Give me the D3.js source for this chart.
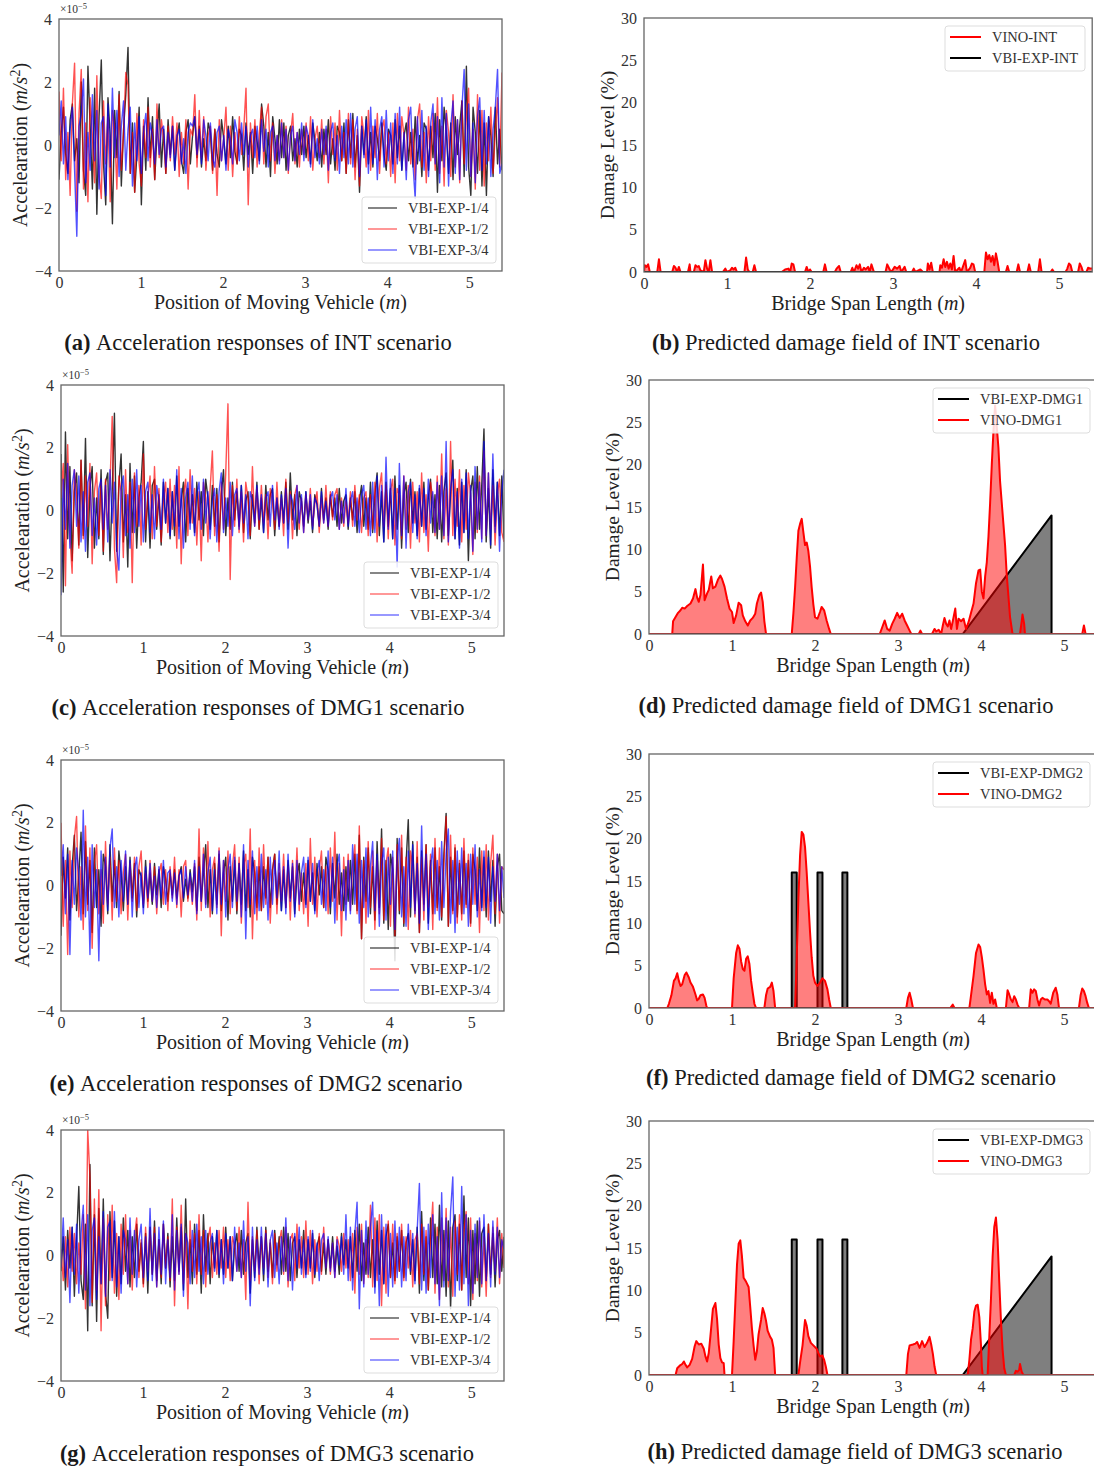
<!DOCTYPE html>
<html>
<head>
<meta charset="utf-8">
<script src="https://cdn.jsdelivr.net/npm/d3@7"></script>
<style>
body{margin:0;background:#fff}
text{font-family:"Liberation Serif","Times New Roman",serif}
</style>
</head>
<body>
<svg id="fig" width="1094" height="1468"></svg>
<script>
// acceleration responses (x10^-5 m/s^2), samples evenly spaced over 0..5.4 m
var accInt14 = [-1.1,0.4,1.2,-0.3,-0.9,0.8,1.3,-0.5,0.2,-1.2, 2.0,-0.8,-1.6,2.5,0.6,-1.4,1.8,-2.2,0.9,2.7, -0.6,-1.9,1.5,0.3,-2.5,1.1,-0.4,1.7,-1.3,0.5, 1.6,3.1,-0.9,0.7,-1.5,-0.3,1.2,-1.9,0.6,-0.8, 1.5,-0.4,0.9,-1.1,0.3,1.3,-0.7,0.5,-0.9,0.8, -0.3,0.6,-0.8,0.2,0.7,-0.5,-0.9,0.4,0.8,-0.6, 0.3,0.9,-0.4,0.6,-0.7,0.2,-0.5,0.7,0.4,-0.8, 0.5,-0.3,-0.7,0.8,0.2,-0.6,0.6,-0.4,0.9,-0.2, -0.6,0.5,0.3,-0.8,0.7,-0.3,0.4,-0.9,0.6,0.1, -0.5,1.3,0.6,-0.7,0.4,-1.0,0.9,0.2,-0.6,0.8, -0.4,0.7,-0.8,0.3,0.6,-0.5,0.2,-0.7,0.5,-0.3, 0.6,-0.4,0.3,-0.6,0.7,0.1,-0.5,0.4,-0.7,0.5, -0.3,0.8,-0.6,0.2,-0.8,0.6,0.4,-0.5,0.7,-0.9, 0.8,-0.4,1.0,-0.7,0.3,-1.5,0.6,-0.3,0.9,-0.6, 0.4,-0.7,0.6,0.2,-0.5,0.7,-0.3,-0.8,0.5,0.3, -0.6,0.8,-0.4,0.6,-0.8,0.3,0.7,-0.5,0.4,-0.7, 0.9,-0.6,0.3,-1.0,0.7,0.5,-0.8,0.6,-0.4,1.0, -1.5,0.8,-0.5,1.2,0.4,-0.9,0.7,-1.1,0.9,-0.3, 0.6,1.4,-1.0,2.5,-0.7,-1.6,1.2,0.4,-0.9,1.1, -1.3,0.7,-1.6,0.9,0.3,-1.0,1.2,-0.6,0.5,-0.8];
var accInt12 = [1.7,-0.5,1.8,-1.1,0.4,-1.6,1.3,2.6,-2.1,1.0, 2.4,-1.4,0.7,-1.8,1.5,0.3,-1.2,2.2,-0.9,-1.7, 1.4,-0.6,0.9,-1.8,1.1,0.5,-1.4,1.6,-0.8,0.4, 2.3,1.9,-0.9,0.4,-1.5,1.0,-0.6,-1.3,0.8,-0.4, 1.2,-0.7,0.5,-1.1,1.3,-0.4,0.8,0.2,-0.9,0.6, -0.5,0.9,-0.3,0.7,-1.0,0.4,-0.6,0.8,-1.4,0.5, 0.3,1.6,-0.7,1.1,-0.4,0.9,-0.8,0.3,0.6,-0.9, 0.5,-1.6,0.8,-0.5,0.2,1.2,-0.8,0.6,-1.0,0.4, -0.6,0.9,-0.3,0.5,1.8,-1.9,0.7,-0.4,0.8,-0.7, 0.4,1.2,-0.6,0.9,1.3,-0.5,0.7,-0.9,0.3,-0.5, 0.8,-0.4,0.6,-0.9,0.3,1.0,-0.6,0.4,-0.7,0.5, -0.3,0.7,-0.5,0.9,-0.8,0.2,0.6,-0.4,0.8,-0.6, 0.5,-1.2,0.9,-0.3,0.7,-0.8,1.1,-0.5,0.4,-0.9, 1.0,-0.6,0.8,-1.1,0.5,-1.3,0.9,0.3,-0.7,1.1, -0.8,0.6,-0.4,1.0,-0.9,0.5,0.8,-0.6,0.4,-1.0, 0.7,-1.2,1.0,-0.5,0.9,0.3,-0.8,1.2,-0.6,0.5, -1.1,0.8,1.3,-0.7,0.4,-1.2,0.9,-0.5,1.0,-0.8, 1.5,-0.9,0.6,-1.3,1.1,0.4,-1.0,1.6,-0.7,0.8, -1.2,1.4,-0.6,0.9,1.8,-1.0,0.5,-1.4,1.6,-0.8, 1.1,-1.3,0.7,-0.5,1.2,-0.9,0.4,1.5,-0.7,2.3];
var accInt34 = [0.3,1.4,-0.6,0.9,-1.1,0.5,1.2,-0.8,-2.9,0.6, 1.0,2.1,-1.2,0.4,-0.8,1.6,-0.5,1.1,-1.4,0.7, 0.9,-1.6,1.3,-0.7,1.8,-0.4,1.1,-1.0,0.6,1.4, -0.8,0.5,1.2,-1.3,0.7,-0.5,0.9,-0.9,0.4,1.0, -0.5,0.7,0.3,-0.6,0.8,-0.3,0.5,0.6,-0.7,0.4, -0.4,0.6,-0.8,0.3,0.5,-0.6,0.2,-0.9,0.4,0.7, 0.6,0.9,-0.3,0.5,-0.6,0.8,0.3,-0.5,0.7,-0.4, -0.7,0.4,0.6,-0.5,0.3,-0.8,0.5,0.2,-0.6,0.8, 0.4,-0.5,0.7,-0.3,0.6,-0.7,0.3,0.5,-0.4,0.6, -0.6,0.8,-0.2,0.5,-0.7,0.4,0.6,-0.5,0.3,-0.6, 0.7,-0.4,0.5,-0.8,0.3,0.6,-0.5,0.4,-0.3,0.7, -0.5,0.6,0.3,-0.7,0.8,-0.4,0.2,-0.6,0.5,-0.3, 0.6,-0.8,0.4,0.7,-0.5,0.3,-0.9,0.6,-0.4,0.8, -0.6,1.0,-0.7,0.5,0.9,-1.0,0.6,-0.4,0.8,-0.9, 1.2,-0.6,0.8,-1.1,0.5,0.9,-0.7,1.1,-0.5,0.7, -0.9,1.0,-0.6,1.2,-0.8,0.4,-1.1,0.8,1.2,-0.6, -1.7,0.9,-0.5,1.1,-0.8,0.6,-1.0,0.7,1.3,-0.6, 0.9,-1.2,1.5,-0.7,1.0,-1.3,0.6,1.4,-0.9,0.8, -1.1,1.2,2.4,-0.8,1.3,-1.0,0.7,-1.2,0.9,1.5, -0.8,1.1,-0.6,0.9,-1.0,0.5,1.2,2.4,-0.9,-0.6];

var accDmg1_14 = [1.8,-2.6,2.5,-0.9,1.4,-1.6,0.6,1.2,-1.1,1.6, -0.8,2.3,-1.5,0.7,1.4,-1.2,0.4,-0.9,1.3,-1.4, 0.9,1.2,-1.6,0.6,3.1,-1.3,0.8,1.8,-1.0,0.5, -1.8,1.5,-0.7,1.1,-1.2,0.4,0.9,2.2,-1.0,0.6, -1.2,0.8,1.0,-0.6,0.5,-1.1,0.9,-0.4,0.7,-0.9, 0.6,-0.8,1.1,-0.5,0.3,0.9,-1.0,0.7,-0.4,0.5, -0.7,0.9,-0.3,0.6,-0.8,1.0,0.4,-0.6,0.8,-0.5, 0.7,-1.0,0.5,1.3,-0.8,0.4,-0.6,0.9,-0.3,0.6, -0.5,0.8,-0.7,0.3,0.6,-0.9,0.5,-0.4,0.9,-0.6, 0.4,-0.7,0.8,-0.3,0.5,0.7,-0.8,0.4,-0.5,0.6, -0.4,0.9,-0.6,1.2,-0.3,0.5,-0.8,0.6,0.3,-0.5, 0.6,-0.4,0.3,-0.7,0.5,0.2,-0.5,0.7,-0.3,0.4, -0.6,0.5,-0.2,0.4,-0.5,0.7,-0.4,0.3,0.5,-0.6, 0.4,-0.3,0.6,-0.7,0.3,0.8,-0.5,0.4,-0.6,0.9, -0.7,0.5,1.2,-0.8,0.6,-1.0,0.9,-0.5,0.7,-0.9, 1.1,-0.6,0.8,-1.2,0.5,0.9,-0.7,1.0,-0.4,0.6, -0.8,0.7,-0.5,0.9,-0.6,0.4,1.0,-0.7,0.5,-0.9, 0.8,-1.0,0.6,1.2,-0.8,0.5,1.6,-0.9,0.7,-1.1, 0.9,-0.7,1.3,-1.6,0.6,1.1,-0.9,1.4,-0.6,0.8, 2.6,-1.0,0.7,-1.2,1.3,-0.5,0.9,-0.8,1.1,-0.9];
var accDmg1_12 = [0.4,1.5,-2.4,2.1,-0.8,-2.0,1.3,0.5,-1.2,1.6, -0.9,1.1,-0.5,1.5,-1.7,0.6,1.2,-0.8,0.9,-1.3, 1.0,-0.6,0.8,3.0,-1.2,-2.3,1.1,0.6,-1.5,1.3, -0.7,0.9,-2.3,1.2,-0.5,0.8,-1.1,1.8,-0.6,0.4, 1.1,-0.9,1.4,-0.5,0.7,-1.0,0.3,0.9,-0.7,1.0, -0.6,0.8,-1.2,1.4,-1.7,0.5,1.0,-0.8,1.3,-0.4, 0.7,-1.1,0.6,-1.6,0.9,0.4,-1.0,0.7,1.9,-0.8, 0.5,-1.3,0.9,-0.6,1.2,3.4,-2.2,0.8,-0.5,1.0, -0.7,0.6,-1.0,0.9,0.4,-0.8,1.4,-0.5,0.7,-0.6, 0.8,-0.4,0.5,-0.9,0.7,0.3,-0.6,0.9,-0.5,0.4, -0.8,1.0,-0.4,0.6,-0.9,0.5,0.8,-0.6,0.4,-0.7, 0.5,-0.3,0.7,-0.5,0.2,0.6,-0.7,0.4,-0.4,0.8, -0.5,0.6,-0.3,0.5,0.7,-0.6,0.4,-0.5,0.3,-0.4, 0.6,-0.5,0.8,-0.3,0.5,-0.7,0.4,0.6,-0.8,0.5, -0.6,0.9,-1.0,0.7,1.2,-0.5,0.8,-0.9,0.6,1.0, -1.1,0.7,0.5,-0.9,1.1,-0.6,0.8,-1.2,0.9,-0.4, 0.6,-1.0,1.2,-0.7,0.5,-1.3,0.9,0.4,-0.8,1.1, -0.6,1.8,-0.9,0.7,-1.1,2.2,-0.8,1.0,-0.5,1.3, -1.0,0.8,-0.6,1.2,0.5,-1.4,0.9,-0.7,1.1,-0.9, 1.9,-0.8,1.2,-0.6,0.8,-1.1,0.5,1.0,-0.7,-1.0];
var accDmg1_34 = [-2.7,1.0,-0.6,1.5,-1.2,0.8,1.3,-0.5,1.1,-1.0, 0.6,-1.3,0.9,1.2,-0.8,0.4,-1.1,0.7,1.0,-0.6, 0.8,-1.0,1.3,-0.4,0.9,-1.2,-1.9,0.7,1.1,-0.8, 0.5,-1.2,1.0,-0.7,1.3,-0.5,0.8,-1.0,0.6,0.9, -0.7,0.5,-0.9,0.8,0.3,-0.6,1.0,-0.4,0.7,-0.8, 0.6,-0.5,1.3,-0.9,0.7,-1.2,0.4,0.9,-0.6,1.1, -0.8,0.5,0.9,-0.6,1.0,-0.4,0.6,-0.9,0.3,0.7, -1.0,0.6,1.2,-0.7,0.4,-0.5,0.9,-0.8,0.5,0.7, -0.6,0.8,-0.4,0.5,-0.9,0.6,0.3,-0.5,0.8,-0.3, 0.5,-0.7,0.4,0.6,-0.5,0.8,-0.3,0.4,-0.6,0.5, -0.4,0.7,-1.2,0.5,0.3,-0.6,0.8,-0.4,0.5,-0.7, 0.6,-0.3,0.5,-0.6,0.4,0.2,-0.5,0.6,-0.4,0.3, -0.5,0.4,0.6,-0.3,0.5,-0.6,0.3,-0.4,0.7,-0.5, 0.3,0.6,-0.5,0.4,-0.7,0.5,0.8,-0.6,0.4,-0.8, 0.9,-0.7,1.1,-0.5,0.8,-1.0,1.7,-0.6,1.0,-0.9, 0.7,-1.8,1.5,-0.8,1.1,-1.2,0.6,0.9,-0.7,0.5, -0.9,0.8,-0.5,0.7,-0.8,1.0,-0.4,0.6,-0.7,0.9, -0.6,1.1,-0.8,2.2,-1.0,0.7,1.3,-0.9,0.6,-1.2, 1.0,-0.7,1.2,-0.9,0.8,-1.3,1.4,-0.6,0.9,-1.0, 2.2,-0.8,1.2,-1.1,1.8,-0.7,0.9,-1.3,0.6,1.3];

var accDmg2_14 = [-1.6,0.9,-0.4,1.2,-1.1,0.6,1.6,-0.8,0.3,1.7, -0.9,1.4,-0.6,0.8,-1.5,1.2,-0.7,0.5,-1.3,1.0, 0.6,-0.9,1.3,-0.5,0.8,-0.7,1.1,0.4,-0.8,0.6, -0.6,0.9,-0.4,0.7,-1.0,0.5,0.3,-0.7,0.8,-0.5, 0.4,-0.6,0.7,-0.3,0.5,-0.7,0.6,0.2,-0.5,0.4, -0.3,0.5,-0.4,0.3,0.6,-0.5,0.2,-0.4,0.5,-0.2, 0.6,-0.8,0.9,-0.5,0.4,1.3,-0.7,0.5,-0.9,0.7, -0.6,1.0,-0.8,0.4,0.9,-1.1,0.6,-0.5,0.8,-0.9, 0.7,-0.6,1.1,-0.8,0.5,-1.0,0.9,0.4,-0.7,0.6, -0.8,0.6,-0.4,0.9,-0.7,0.5,1.0,-0.6,0.4,-0.8, 0.5,-0.7,0.8,-0.4,0.6,-0.9,0.3,0.7,-0.5,0.4, -0.6,0.8,-0.5,0.4,-0.8,0.7,-0.3,0.6,-0.7,0.9, 0.5,-0.9,0.7,-0.4,1.0,-0.6,0.4,-0.8,0.6,-0.5, 0.8,-0.6,1.0,-0.8,1.6,-1.7,0.9,-0.5,1.2,-0.9, 0.6,-1.1,1.4,-0.7,1.8,-1.2,0.8,-1.4,1.0,0.5, -2.4,1.5,-0.9,1.2,-1.3,0.7,2.1,-1.0,1.4,-0.8, 0.9,-1.5,1.1,-0.6,1.3,-1.2,0.8,-0.9,1.2,-0.7, 0.6,-1.1,1.0,2.3,-1.3,0.9,-0.8,1.2,-1.0,0.7, -0.9,1.1,-0.6,0.8,-1.2,1.0,0.5,-0.8,1.2,-0.7, 0.9,-1.0,1.1,-0.5,0.8,-1.3,0.6,1.0,-0.8,-0.9];
var accDmg2_12 = [2.0,-1.3,0.8,-2.2,1.1,-0.7,1.5,2.2,-1.0,0.6, -1.4,1.9,-0.8,1.2,-2.0,0.7,1.3,-0.9,0.5,-1.2, 1.4,-0.6,0.9,-1.1,1.2,-0.5,0.8,-0.9,0.4,1.0, -1.1,0.7,-0.5,0.9,-0.8,0.6,1.1,-0.6,0.4,-0.7, 0.8,-0.5,0.6,-0.9,0.4,0.7,-0.6,0.5,-0.8,0.6, -0.4,0.9,-0.7,0.5,-1.0,0.6,0.8,-0.5,0.3,-0.6, 0.7,-1.1,1.8,-0.8,1.2,-0.6,1.4,-1.0,0.5,0.9, -0.7,1.2,-1.6,0.8,-0.5,1.1,-0.9,0.6,1.3,-0.8, 0.9,-1.2,0.6,1.0,-0.7,1.8,-1.7,0.8,-1.1,1.2, -0.8,1.3,-0.6,0.9,-1.2,0.5,1.0,-0.9,0.7,-0.5, 1.0,-0.7,0.6,-1.1,0.8,-0.5,1.2,-0.8,0.4,-0.9, 0.7,-1.3,1.5,-0.6,0.9,-1.0,0.5,1.1,-0.7,0.6, -0.9,1.2,-0.5,1.7,-1.1,0.7,-1.6,0.9,-0.6,1.0, -0.8,0.6,1.3,-0.9,1.9,-1.7,0.8,-1.2,1.4,-0.7, 1.1,-1.4,0.8,-0.9,1.5,-1.1,0.7,1.2,-1.3,0.9, -1.6,1.3,-0.8,1.6,-1.2,0.9,-1.4,1.1,0.6,-1.0, 1.4,-1.5,0.9,-1.1,1.3,-0.7,1.0,-1.4,1.5,-0.8, 1.2,-1.0,0.7,2.2,-1.3,1.6,-0.9,1.3,-1.2,0.8, -1.1,1.5,-0.7,1.0,-1.3,1.2,-0.6,0.9,-1.5,1.1, -0.8,1.3,-1.1,0.7,1.6,-0.9,1.0,-1.2,0.6,0.5];
var accDmg2_34 = [0.3,1.3,-0.9,1.0,-2.2,0.8,-0.6,1.2,0.4,-1.1, 2.4,-1.0,0.9,-2.2,1.3,-0.7,0.5,-2.4,1.1,-0.6, 0.9,-0.8,1.2,1.8,-0.7,0.6,-1.0,0.8,-0.5,1.1, -0.6,0.8,-1.0,0.5,0.9,-0.7,0.4,-0.9,0.6,-0.4, 0.7,-0.5,0.3,-0.7,0.6,-0.4,0.8,-0.6,0.4,0.5, -0.5,0.4,-0.6,0.3,0.5,-0.4,0.6,-0.3,0.4,-0.5, 0.8,-0.9,0.6,-0.5,1.0,-0.7,0.4,0.9,-0.8,0.5, -0.9,1.1,-0.6,0.8,-1.0,0.5,1.0,-0.7,0.9,-0.5, 0.7,-1.0,1.3,-1.7,0.8,-0.6,1.1,-0.9,0.6,-0.8, 1.0,-0.7,0.5,-1.1,0.9,-0.6,0.8,-0.4,1.1,-0.8, 0.6,-0.9,1.0,-0.5,0.7,-1.0,0.8,-0.6,0.4,0.9, -0.7,0.9,-0.5,0.7,-0.9,0.4,0.8,-0.6,0.5,-0.8, 1.1,-0.7,0.9,-1.2,0.6,1.0,-0.8,0.5,-1.1,0.8, -0.9,1.3,-0.6,1.0,-1.2,0.8,-0.7,1.2,-1.0,0.6, 1.4,-0.8,1.0,-1.3,0.7,1.2,-1.1,0.9,-0.6,1.1, -1.4,0.8,1.5,-1.0,0.6,-1.3,1.1,-0.7,1.3,-0.9, 0.7,-1.2,1.9,-0.8,1.0,-1.4,0.6,1.2,-0.9,0.8, -1.1,1.4,-0.7,1.0,1.8,-1.2,0.8,-1.5,1.1,-0.6, 1.2,-0.9,0.7,-1.3,1.0,-0.6,1.3,-1.0,0.5,-0.8, 1.1,-0.7,0.9,-1.2,0.6,-0.5,1.0,-0.8,0.6,-0.4];

var accDmg3_14 = [-0.5,0.6,-1.1,0.8,-0.4,0.9,-1.3,0.5,2.2,-0.8, -1.4,1.0,-2.4,2.9,-1.6,1.3,-2.1,1.5,-0.9,1.8, -1.2,-2.0,1.4,-0.7,1.1,-1.3,0.6,-0.9,1.2,-0.5, 0.8,-1.0,0.6,-0.7,1.0,-0.5,0.4,-0.9,0.7,-1.2, 0.9,-0.6,1.1,-0.8,0.5,-0.9,1.0,-0.4,0.7,-1.0, 0.6,-0.8,1.2,-0.5,0.9,-1.1,1.8,-0.7,0.5,-0.9, 1.0,-0.6,0.8,-1.2,1.3,-0.5,0.7,-0.9,0.6,-0.4, 0.8,-0.7,0.5,-0.6,0.9,-0.4,0.6,-0.8,0.3,0.7, -0.5,0.8,-0.6,0.4,0.7,-1.2,0.5,-0.7,0.9,-0.4, 0.6,-0.8,0.9,-0.5,0.4,-0.7,0.8,-0.3,0.6,-0.6, 0.9,-0.5,0.7,-0.8,0.4,0.6,-0.7,0.5,-0.4,0.8, -0.6,0.5,-0.4,0.7,-0.7,0.3,0.6,-0.5,0.4,-0.6, 0.5,-0.4,0.6,-0.5,0.3,-0.6,0.7,-0.3,0.5,-0.4, 0.6,-0.7,0.8,-0.5,1.0,-0.8,0.4,-0.6,0.9,-0.7, 0.5,-1.0,1.1,-0.6,0.8,-0.9,0.6,1.0,-0.7,0.4, -0.8,0.6,-0.5,0.8,-0.7,0.4,0.7,-0.6,0.5,-0.8, 0.9,-1.2,1.4,-0.8,0.6,-1.1,1.2,-0.7,1.0,-0.9, 1.6,-1.0,0.8,-1.3,1.1,-1.7,0.9,1.3,-0.8,1.0, -1.1,1.9,-0.7,1.2,-1.6,0.8,-0.9,1.1,-1.3,0.7, 0.9,-0.8,1.0,-0.6,0.7,-1.0,0.5,0.8,-0.5,0.6];
var accDmg3_12 = [0.2,-0.8,0.6,-1.0,0.9,-0.5,0.7,-0.9,0.4,-0.6, 1.3,-1.7,4.0,2.5,-1.5,1.8,-1.1,2.1,-2.4,1.2, -1.6,1.3,-0.8,1.6,-1.2,0.7,-1.4,1.0,-0.6,1.3, -0.9,0.8,-1.1,0.6,1.2,-0.7,0.5,-1.0,0.9,-0.5, 0.8,-0.6,0.9,-1.0,0.5,-0.7,1.0,-0.4,0.6,-0.8, 1.8,-1.6,0.9,-0.6,1.6,-0.9,0.7,-1.7,1.1,-0.5, 0.7,-0.9,1.3,-0.6,0.8,-1.0,0.5,0.9,-0.7,0.4, -0.6,0.8,-0.4,0.9,-0.7,0.5,-0.8,0.6,0.3,-0.5, 0.9,-0.7,0.5,-1.4,1.7,-0.8,0.6,-0.5,0.8,-0.9, 0.6,-0.4,0.8,-0.7,0.5,-0.9,0.7,-0.5,0.4,0.8, -0.6,0.9,-1.0,0.5,0.7,-0.8,1.0,-0.4,0.6,-0.7, 1.1,-0.6,0.8,-0.9,0.5,-0.5,0.7,-0.6,0.9,-0.4, 0.5,-0.6,0.4,-0.7,0.6,0.3,-0.5,0.7,-0.4,0.5, -0.8,0.7,-1.2,0.9,-0.6,1.0,-0.9,0.5,-0.7,1.6, -1.0,1.2,-0.8,1.3,-1.6,0.9,-1.2,1.1,-0.7,1.0, -0.9,0.7,-0.5,1.0,-0.8,0.6,-0.4,0.8,-1.0,0.5, 0.7,-0.9,1.0,-0.6,0.8,-1.1,0.5,1.7,-1.2,0.9, -1.4,1.2,-0.8,1.5,-1.0,0.9,-1.3,1.1,-0.6,1.3, -1.1,0.8,1.4,-0.9,1.2,-1.4,0.7,-0.8,1.1,-1.0, 0.6,-1.3,1.0,-0.7,0.9,-0.5,1.2,-0.9,0.7,-0.4];
var accDmg3_34 = [-0.4,1.2,-0.7,0.5,-1.5,0.9,-0.6,1.0,-1.2,0.7, 1.6,-1.1,1.3,-1.6,0.8,1.2,-1.4,0.6,-0.9,1.4, -1.3,0.9,1.1,-0.8,1.4,-1.0,0.6,-1.2,0.8,0.5, -0.9,1.2,-0.6,0.8,-1.0,0.5,1.0,-0.7,0.6,-0.8, 1.5,-0.8,0.7,-1.0,0.9,-0.6,1.1,-0.9,0.5,-0.7, 1.3,-1.1,0.8,-0.6,1.0,-1.3,0.7,0.4,-0.9,0.8, -0.7,1.0,-0.5,0.6,-0.9,0.8,-0.6,0.4,0.7,-0.5, 0.8,-0.6,0.5,-0.9,0.7,-0.4,0.6,-0.8,0.9,-0.5, 0.4,-0.7,1.1,-0.5,0.6,-1.6,0.9,-0.8,0.5,-0.6, 0.9,-0.6,0.7,-1.0,0.5,0.8,-0.7,0.4,-0.9,0.6, -0.5,1.2,-0.8,0.6,-1.1,0.7,-0.4,0.9,-0.6,0.5, -0.7,0.6,-0.5,0.8,-0.6,0.4,-0.8,0.5,0.7,-0.4, 0.6,-0.5,0.4,-0.7,0.5,-0.3,0.6,-0.6,1.3,-0.8, 0.9,-1.1,0.7,1.7,-1.7,0.8,-1.0,1.1,-0.6,0.9, 1.7,-1.2,0.8,-1.6,1.3,-0.9,1.0,-1.3,0.7,-1.0, 1.1,-0.7,0.9,-1.0,0.6,-0.8,1.0,-0.5,0.7,-0.9, 0.8,2.3,-1.1,0.9,-1.2,1.0,-0.7,1.3,-0.9,0.6, -1.6,2.0,-1.0,1.2,-0.8,1.4,2.5,-1.3,0.9,-1.1, 2.2,-0.9,1.3,-1.6,0.8,-1.2,1.0,-0.7,1.2,-0.9, 1.3,-0.8,0.7,-1.0,1.1,-0.6,0.9,-0.7,0.5,0.2];

var accTicks = [-4, -2, 0, 2, 4];
var spanTicks = [0, 1, 2, 3, 4, 5];
var damageTicks = [0, 5, 10, 15, 20, 25, 30];
var accLabels = ["VBI-EXP-1/4", "VBI-EXP-1/2", "VBI-EXP-3/4"];

// damage fields [position m, damage %]
var vinoINT = [[0,0],[0.01,0.8],[0.03,0.6],[0.05,0.9],[0.07,0],[0.16,0],[0.18,1.5],[0.2,0],[0.34,0],[0.36,0.7],[0.38,0.5],[0.4,0],[0.42,0.6],[0.44,0],[0.53,0],[0.55,0.9],[0.56,0],[0.6,0],[0.62,0.8],[0.64,0.6],[0.66,0.7],[0.68,0.2],[0.72,0],[0.74,1.4],[0.76,0.4],[0.78,0],[0.8,1.4],[0.82,0],[0.95,0],[0.98,0.4],[1.0,0],[1.04,0.2],[1.06,0.5],[1.08,0.3],[1.1,0.5],[1.12,0],[1.21,0],[1.23,1.7],[1.25,0.3],[1.27,0],[1.31,0],[1.33,0.8],[1.35,0],[1.66,0],[1.7,0.3],[1.74,0.4],[1.76,0],[1.78,1.0],[1.8,0.9],[1.82,0],[1.94,0],[1.96,0.6],[1.98,0],[2.0,0.3],[2.02,0],[2.16,0],[2.18,0.9],[2.2,0],[2.3,0],[2.32,0.4],[2.35,0.7],[2.37,0],[2.49,0],[2.51,0.5],[2.53,0],[2.56,0.8],[2.58,0.4],[2.6,0.9],[2.62,0],[2.65,0.5],[2.67,0.3],[2.7,0.6],[2.72,0],[2.74,0.9],[2.77,0],[2.91,0],[2.93,0.9],[2.96,0.3],[2.98,0],[3.02,0.6],[3.05,0.4],[3.08,0.7],[3.1,0],[3.14,0.6],[3.16,0],[3.23,0],[3.25,0.4],[3.27,0],[3.33,0.3],[3.36,0],[3.41,0],[3.42,1.0],[3.44,0.3],[3.46,1.1],[3.48,0],[3.56,0],[3.57,0.8],[3.59,0.5],[3.61,1.5],[3.63,0.6],[3.65,1.2],[3.67,0.4],[3.69,1.0],[3.71,0.3],[3.73,1.9],[3.75,0],[3.8,0.5],[3.82,0],[3.87,1.4],[3.89,0],[3.93,0.5],[3.95,1.0],[3.97,0.9],[3.99,0],[4.1,0],[4.12,2.3],[4.14,1.5],[4.16,2.0],[4.18,1.2],[4.2,1.9],[4.22,0.8],[4.24,2.2],[4.26,1.2],[4.28,0],[4.36,0],[4.38,0.7],[4.4,0],[4.49,0],[4.51,0.9],[4.53,0],[4.62,0],[4.64,0.9],[4.66,0],[4.75,0],[4.77,1.5],[4.79,0],[4.9,0],[4.92,0.3],[4.94,0],[5.08,0],[5.1,0.4],[5.12,1.0],[5.14,0.8],[5.16,0],[5.23,0],[5.25,1.0],[5.27,0.6],[5.29,0],[5.33,0],[5.35,0.5],[5.38,0.4],[5.4,0.4]];
var expINT = [[0,0],[5.4,0]];

var vinoDMG1 = [[0,0],[0.28,0],[0.29,1.5],[0.32,2.0],[0.35,2.5],[0.38,2.8],[0.4,3.1],[0.43,3.0],[0.46,3.3],[0.5,3.6],[0.53,4.2],[0.56,5.3],[0.58,4.3],[0.6,3.8],[0.62,4.6],[0.65,8.2],[0.67,4.0],[0.7,4.8],[0.72,5.2],[0.75,6.8],[0.77,5.4],[0.8,5.6],[0.83,6.4],[0.86,6.9],[0.88,6.5],[0.91,5.6],[0.94,4.2],[0.97,3.0],[1.0,2.6],[1.02,1.3],[1.05,2.2],[1.08,3.7],[1.11,3.4],[1.13,2.2],[1.16,1.5],[1.19,1.0],[1.22,1.6],[1.25,1.9],[1.28,2.4],[1.3,3.6],[1.33,4.6],[1.35,4.9],[1.37,3.8],[1.39,1.5],[1.41,0],[1.72,0],[1.74,2.5],[1.76,5.5],[1.78,9.0],[1.8,12.2],[1.82,13.0],[1.84,13.6],[1.86,12.0],[1.88,10.5],[1.9,10.8],[1.92,9.8],[1.94,8.0],[1.96,5.5],[1.98,3.5],[2.0,2.0],[2.03,1.8],[2.06,2.6],[2.08,3.2],[2.11,2.8],[2.14,1.6],[2.17,0.6],[2.19,0],[2.78,0],[2.81,0.8],[2.84,1.6],[2.87,0.6],[2.9,0.4],[2.93,1.2],[2.96,1.8],[2.99,2.5],[3.02,1.9],[3.05,2.4],[3.08,1.6],[3.11,1.0],[3.14,0.4],[3.16,0],[3.25,0],[3.27,0.4],[3.29,0],[3.41,0],[3.44,0.6],[3.46,0.3],[3.49,0.5],[3.52,0],[3.54,1.0],[3.56,1.9],[3.58,1.2],[3.6,0.9],[3.62,1.6],[3.64,0.6],[3.66,1.5],[3.69,3.0],[3.71,0.6],[3.73,1.8],[3.76,1.5],[3.79,1.8],[3.82,0.6],[3.85,1.4],[3.88,2.5],[3.91,3.6],[3.94,6.0],[3.97,7.5],[3.99,7.6],[4.01,5.0],[4.03,4.2],[4.05,6.8],[4.07,8.5],[4.09,11.5],[4.11,15.5],[4.13,20.0],[4.15,24.0],[4.17,27.0],[4.19,24.5],[4.21,22.0],[4.23,18.0],[4.25,15.5],[4.27,13.0],[4.29,10.5],[4.31,7.0],[4.33,4.5],[4.35,2.0],[4.38,0],[4.47,0],[4.49,1.5],[4.5,2.3],[4.52,1.2],[4.53,0],[5.22,0],[5.24,1.0],[5.26,0],[5.4,0]];
var expDMG1 = [[0,0],[3.78,0],[4.85,14],[4.85,0],[5.4,0]];

var vinoDMG2 = [[0,0],[0.22,0],[0.24,0.5],[0.27,1.5],[0.3,3.2],[0.32,3.5],[0.34,4.1],[0.36,3.2],[0.38,2.6],[0.4,2.8],[0.43,3.9],[0.45,4.2],[0.48,3.6],[0.5,3.0],[0.53,2.5],[0.56,1.6],[0.58,0.9],[0.6,1.1],[0.62,1.5],[0.65,1.6],[0.67,1.2],[0.69,0.3],[0.7,0],[1.0,0],[1.02,3.5],[1.05,6.5],[1.07,7.4],[1.09,7.0],[1.11,5.5],[1.13,4.6],[1.15,4.4],[1.17,5.8],[1.19,6.1],[1.21,5.2],[1.23,3.2],[1.25,1.8],[1.27,0.5],[1.29,0],[1.39,0],[1.41,1.5],[1.43,2.3],[1.46,2.5],[1.48,3.0],[1.5,2.0],[1.52,0],[1.76,0],[1.78,6.0],[1.8,13.0],[1.82,18.0],[1.84,20.8],[1.86,20.5],[1.88,19.0],[1.9,16.0],[1.92,12.5],[1.94,9.0],[1.96,6.0],[1.98,3.8],[2.0,3.0],[2.03,2.6],[2.06,3.0],[2.09,3.5],[2.12,3.2],[2.15,2.2],[2.17,1.0],[2.19,0],[3.1,0],[3.12,1.2],[3.14,1.8],[3.16,1.0],[3.18,0],[3.63,0],[3.66,0.4],[3.68,0],[3.86,0],[3.88,1.5],[3.91,3.8],[3.94,6.5],[3.97,7.5],[3.99,7.2],[4.01,6.0],[4.03,4.5],[4.05,2.8],[4.07,1.6],[4.09,2.0],[4.11,0.6],[4.13,1.8],[4.15,0.5],[4.17,1.0],[4.19,0],[4.3,0],[4.32,2.1],[4.34,1.6],[4.36,1.0],[4.38,0.7],[4.4,1.4],[4.42,1.0],[4.44,0.4],[4.46,0],[4.58,0],[4.6,2.2],[4.62,1.8],[4.64,2.2],[4.66,2.0],[4.68,1.0],[4.7,0.3],[4.72,1.0],[4.74,1.2],[4.77,1.0],[4.8,1.0],[4.82,0.8],[4.84,0.5],[4.87,1.8],[4.9,2.4],[4.92,1.6],[4.94,0],[5.18,0],[5.2,1.5],[5.22,2.3],[5.24,2.0],[5.26,1.4],[5.28,0.6],[5.3,0],[5.4,0]];
var expDMG2 = [[0,0],[1.72,0],[1.72,16],[1.78,16],[1.78,0],[2.03,0],[2.03,16],[2.09,16],[2.09,0],[2.33,0],[2.33,16],[2.39,16],[2.39,0],[5.4,0]];

var vinoDMG3 = [[0,0],[0.32,0],[0.34,0.8],[0.37,1.1],[0.4,1.3],[0.42,1.6],[0.44,1.2],[0.46,0.9],[0.49,1.2],[0.52,1.9],[0.55,3.4],[0.57,4.0],[0.6,3.6],[0.63,3.7],[0.66,3.1],[0.68,2.2],[0.7,1.6],[0.72,2.6],[0.74,4.6],[0.77,7.8],[0.8,8.5],[0.82,6.6],[0.84,3.6],[0.86,2.0],[0.88,1.5],[0.9,1.4],[0.91,0],[1.0,0],[1.02,4.0],[1.04,8.5],[1.06,13.0],[1.08,15.5],[1.1,15.9],[1.12,14.0],[1.14,11.5],[1.17,11.0],[1.2,10.4],[1.22,8.0],[1.24,5.5],[1.26,3.5],[1.28,1.8],[1.3,2.8],[1.32,4.8],[1.35,6.5],[1.37,7.9],[1.39,7.3],[1.41,6.4],[1.43,5.2],[1.46,4.5],[1.48,4.2],[1.5,3.2],[1.52,0],[1.8,0],[1.82,1.5],[1.85,3.5],[1.88,6.5],[1.9,5.8],[1.92,4.6],[1.95,3.8],[1.98,3.5],[2.02,3.1],[2.04,2.6],[2.06,2.2],[2.09,2.3],[2.11,1.8],[2.13,1.0],[2.15,0],[3.1,0],[3.12,2.5],[3.14,3.5],[3.18,3.6],[3.21,3.7],[3.23,3.9],[3.26,3.2],[3.29,4.0],[3.32,3.3],[3.35,3.8],[3.38,4.5],[3.4,3.6],[3.42,2.5],[3.44,1.0],[3.46,0],[3.84,0],[3.86,1.8],[3.88,4.2],[3.9,5.5],[3.92,7.5],[3.94,8.2],[3.96,8.3],[3.98,6.8],[4.0,3.5],[4.01,1.0],[4.02,0],[4.08,0],[4.1,4.5],[4.12,9.0],[4.14,14.0],[4.16,17.5],[4.18,18.6],[4.2,16.0],[4.22,11.0],[4.24,6.5],[4.26,3.0],[4.28,0.8],[4.3,0],[4.4,0],[4.42,0.5],[4.44,0.4],[4.46,0.6],[4.47,1.3],[4.49,0.4],[4.51,0],[5.4,0]];
var expDMG3 = [[0,0],[1.72,0],[1.72,16],[1.78,16],[1.78,0],[2.03,0],[2.03,16],[2.09,16],[2.09,0],[2.33,0],[2.33,16],[2.39,16],[2.39,0],[3.78,0],[4.85,14],[4.85,0],[5.4,0]];

var spanMax = 5.4;
var svg = d3.select("#fig");
var axisGrey = "#666";
var tickColor = "#333";
var clipN = 0;

function fmtTick(d){ return d < 0 ? "\u2212" + (-d) : String(d); }

function frame(g, x, y, box, xt, yt){
  // tick labels only, no tick marks (seaborn-white look)
  var ya = g.append("g").attr("transform","translate(" + box.l + ",0)")
    .call(d3.axisLeft(y).tickValues(yt).tickSize(0).tickPadding(7).tickFormat(fmtTick));
  var xa = g.append("g").attr("transform","translate(0," + box.b + ")")
    .call(d3.axisBottom(x).tickValues(xt).tickSize(0).tickPadding(6).tickFormat(fmtTick));
  [ya, xa].forEach(function(a){
    a.select(".domain").remove();
    a.selectAll("text").attr("font-family","Liberation Serif, serif").attr("font-size",16).attr("fill",tickColor);
  });
  g.append("rect").attr("x",box.l).attr("y",box.t).attr("width",box.r-box.l).attr("height",box.b-box.t)
    .attr("fill","none").attr("stroke",axisGrey).attr("stroke-width",1.3);
}

function addClip(box){
  var id = "clip" + (clipN++);
  svg.append("clipPath").attr("id",id).append("rect")
    .attr("x",box.l).attr("y",box.t).attr("width",box.r-box.l).attr("height",box.b-box.t);
  return "url(#" + id + ")";
}

function caption(cx, cy, tag, txt){
  var t = svg.append("text").attr("x",cx).attr("y",cy).attr("text-anchor","middle")
    .attr("font-size",22.5).attr("fill","#1a1a1a");
  t.append("tspan").attr("font-weight","bold").text("(" + tag + ") ");
  t.append("tspan").text(txt);
}

function accPanel(p){
  var box = p.box;
  var x = d3.scaleLinear().domain([0, spanMax]).range([box.l, box.r]);
  var y = d3.scaleLinear().domain([-4, 4]).range([box.b, box.t]);
  var g = svg.append("g");
  var line = d3.line().x(function(d){ return x(d[0]); }).y(function(d){ return y(d[1]); });
  var cols = [["#000",0.8],["#ff0000",0.68],["#0000ff",0.68]];
  var lg = g.append("g").attr("clip-path", addClip(box));
  p.series.forEach(function(vals, k){
    var dx = spanMax / (vals.length - 1);
    var pts = vals.map(function(v, i){ return [i * dx, v]; });
    lg.append("path").attr("d", line(pts)).attr("fill","none")
      .attr("stroke", cols[k][0]).attr("stroke-opacity", cols[k][1]).attr("stroke-width",1.4)
      .attr("stroke-linejoin","round");
  });
  frame(g, x, y, box, spanTicks, accTicks);
  var ex = g.append("text").attr("x",box.l+1).attr("y",box.t-6).attr("font-size",11.5).attr("fill",tickColor);
  ex.append("tspan").text("\u00d710");
  ex.append("tspan").attr("dy",-4).attr("font-size",8.5).text("\u22125");
  var yt = g.append("text").attr("transform","translate(" + (box.l-32) + "," + ((box.t+box.b)/2) + ") rotate(-90)")
    .attr("text-anchor","middle").attr("font-size",20).attr("fill","#222");
  yt.append("tspan").text("Accelearation (");
  yt.append("tspan").attr("font-style","italic").text("m/s");
  yt.append("tspan").attr("dy",-7).attr("font-size",14).text("2");
  yt.append("tspan").attr("dy",7).text(")");
  var xt = g.append("text").attr("x",(box.l+box.r)/2).attr("y",box.b+38)
    .attr("text-anchor","middle").attr("font-size",20).attr("fill","#222");
  xt.append("tspan").text("Position of Moving Vehicle (");
  xt.append("tspan").attr("font-style","italic").text("m");
  xt.append("tspan").text(")");
  var L = {l: box.r - 140, t: box.b - 74};
  var leg = g.append("g");
  leg.append("rect").attr("x",L.l).attr("y",L.t).attr("width",134).attr("height",66).attr("rx",3)
    .attr("fill","#fff").attr("fill-opacity",0.85).attr("stroke","#ddd");
  accLabels.forEach(function(lab, k){
    var yy = L.t + 11 + k * 21;
    leg.append("line").attr("x1",L.l+6).attr("x2",L.l+35).attr("y1",yy).attr("y2",yy)
      .attr("stroke",cols[k][0]).attr("stroke-opacity",cols[k][1]).attr("stroke-width",1.2);
    leg.append("text").attr("x",L.l+46).attr("y",yy+5).attr("font-size",14.5).attr("fill","#333").text(lab);
  });
  caption(p.capX, p.capY, p.tag, p.cap);
}

function damagePanel(p){
  var box = {l:p.box.l, t:p.box.t, b:p.box.b, r:p.box.l + spanMax*83};
  var x = d3.scaleLinear().domain([0, spanMax]).range([box.l, box.r]);
  var y = d3.scaleLinear().domain([0, 30]).range([box.b, box.t]);
  var g = svg.append("g");
  var area = d3.area().x(function(d){ return x(d[0]); }).y0(y(0)).y1(function(d){ return y(d[1]); });
  var line = d3.line().x(function(d){ return x(d[0]); }).y(function(d){ return y(d[1]); });
  var dg = g.append("g").attr("clip-path", addClip(box));
  p.series.forEach(function(s){
    dg.append("path").attr("d", area(s.data)).attr("fill", s.color).attr("fill-opacity",0.5);
    dg.append("path").attr("d", line(s.data)).attr("fill","none").attr("stroke", s.color)
      .attr("stroke-width", 2).attr("stroke-linejoin","round");
  });
  frame(g, x, y, box, spanTicks, damageTicks);
  g.append("text").attr("transform","translate(" + (box.l-30) + "," + ((box.t+box.b)/2) + ") rotate(-90)")
    .attr("text-anchor","middle").attr("font-size",19.5).attr("fill","#222").text("Damage Level (%)");
  var xt = g.append("text").attr("x",(box.l+box.r)/2).attr("y",box.b+38)
    .attr("text-anchor","middle").attr("font-size",20).attr("fill","#222");
  xt.append("tspan").text("Bridge Span Length (");
  xt.append("tspan").attr("font-style","italic").text("m");
  xt.append("tspan").text(")");
  var leg = g.append("g");
  leg.append("rect").attr("x",p.leg.l).attr("y",box.t+8).attr("width",p.leg.w).attr("height",45).attr("rx",3)
    .attr("fill","#fff").attr("fill-opacity",0.85).attr("stroke","#ddd");
  p.legend.forEach(function(e, k){
    var yy = box.t + 19 + k * 21;
    leg.append("line").attr("x1",p.leg.l+5).attr("x2",p.leg.l+36).attr("y1",yy).attr("y2",yy)
      .attr("stroke",e.color).attr("stroke-width",2);
    leg.append("text").attr("x",p.leg.l+47).attr("y",yy+5).attr("font-size",14.5).attr("fill","#333").text(e.label);
  });
  caption(p.capX, p.capY, p.tag, p.cap);
}

accPanel({tag:"a", box:{l:59,t:19,r:502,b:271}, series:[accInt14, accInt12, accInt34], cap:"Acceleration responses of INT scenario", capX:258, capY:350});
accPanel({tag:"c", box:{l:61,t:385,r:504,b:636}, series:[accDmg1_14, accDmg1_12, accDmg1_34], cap:"Acceleration responses of DMG1 scenario", capX:258, capY:715});
accPanel({tag:"e", box:{l:61,t:760,r:504,b:1011}, series:[accDmg2_14, accDmg2_12, accDmg2_34], cap:"Acceleration responses of DMG2 scenario", capX:256, capY:1091});
accPanel({tag:"g", box:{l:61,t:1130,r:504,b:1381}, series:[accDmg3_14, accDmg3_12, accDmg3_34], cap:"Acceleration responses of DMG3 scenario", capX:267, capY:1461});

damagePanel({tag:"b", box:{l:644,t:18,b:272}, series:[{data:vinoINT,color:"#ff0000"},{data:expINT,color:"#000"}],
  legend:[{label:"VINO-INT",color:"#ff0000"},{label:"VBI-EXP-INT",color:"#000"}], leg:{l:945,w:140},
  cap:"Predicted damage field of INT scenario", capX:846, capY:350});
damagePanel({tag:"d", box:{l:649,t:380,b:634}, series:[{data:expDMG1,color:"#000"},{data:vinoDMG1,color:"#ff0000"}],
  legend:[{label:"VBI-EXP-DMG1",color:"#000"},{label:"VINO-DMG1",color:"#ff0000"}], leg:{l:933,w:157},
  cap:"Predicted damage field of DMG1 scenario", capX:846, capY:713});
damagePanel({tag:"f", box:{l:649,t:754,b:1008}, series:[{data:expDMG2,color:"#000"},{data:vinoDMG2,color:"#ff0000"}],
  legend:[{label:"VBI-EXP-DMG2",color:"#000"},{label:"VINO-DMG2",color:"#ff0000"}], leg:{l:933,w:157},
  cap:"Predicted damage field of DMG2 scenario", capX:851, capY:1085});
damagePanel({tag:"h", box:{l:649,t:1121,b:1375}, series:[{data:expDMG3,color:"#000"},{data:vinoDMG3,color:"#ff0000"}],
  legend:[{label:"VBI-EXP-DMG3",color:"#000"},{label:"VINO-DMG3",color:"#ff0000"}], leg:{l:933,w:157},
  cap:"Predicted damage field of DMG3 scenario", capX:855, capY:1459});
</script>
</body>
</html>
